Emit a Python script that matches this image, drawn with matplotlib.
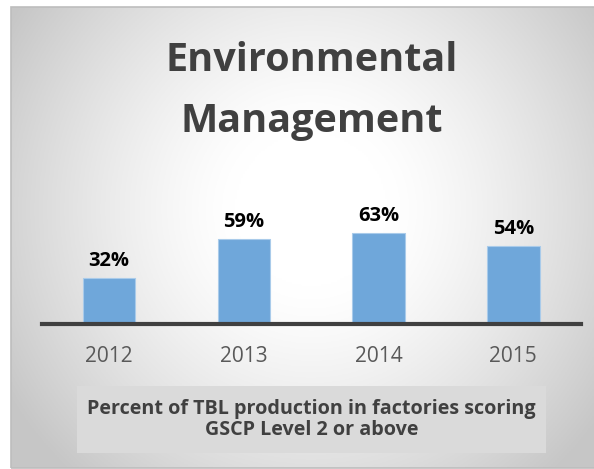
import matplotlib
matplotlib.use('Agg')
import matplotlib.pyplot as plt
from matplotlib.patches import Rectangle
import numpy as np

years = ['2012', '2013', '2014', '2015']
pct = [32, 59, 63, 54]

title_lines = ['Environmental', 'Management']
caption_lines = ['Percent of TBL production in factories scoring',
                 'GSCP Level 2 or above']

W, H = 594, 469
plt.rcParams['font.family'] = ['Open Sans', 'DejaVu Sans']


def fx(px):
    return px / W


def fy(py):
    # pixel row (from top) -> figure fraction
    return 1 - py / H


fig = plt.figure(figsize=(W / 100, H / 100), dpi=100)

# radial grey background panel
bg = fig.add_axes([fx(11), fy(468), fx(583), 461 / H])
xx, yy = np.meshgrid(np.linspace(-1, 1, 300), np.linspace(-1, 1, 240))
dx = xx - 0.03
dy = yy + 0.12
r = np.sqrt(0.9 * dx**2 + 0.55 * dy**2)
v = 1 - 0.22 * np.clip((r - 0.25) / 0.9, 0, 1)**1.3
bg.imshow(np.dstack([v, v, v]), extent=[0, 1, 0, 1], aspect='auto', origin='upper')
bg.set_xlim(0, 1)
bg.set_ylim(0, 1)
bg.axis('off')
bg.add_patch(Rectangle((0, 0), 1.2, 1, transform=bg.transAxes, fill=False,
                       edgecolor='#bdbdbd', linewidth=1.2, clip_on=False))

# caption box
fig.patches.append(Rectangle((fx(77), fy(453)), fx(469), 67 / H, transform=fig.transFigure,
                             facecolor='#dadada', edgecolor='none', zorder=1))

ax = fig.add_axes([fx(41.7), fy(324), fx(539), 124 / H])
ax.patch.set_alpha(0)
x = np.arange(len(years))
bars = ax.bar(x, pct, width=0.39, color='#6fa7da', edgecolor='#a9cbea', linewidth=0.8, zorder=2)
ax.set_xlim(-0.5, 3.5)
ax.set_ylim(0, 85.8)
ax.axhline(0, color='#404040', linewidth=3, zorder=3, clip_on=False)
for xi, p in zip(x, pct):
    ax.annotate('{}%'.format(p), (xi, p), xytext=(0, 12), textcoords='offset points',
                ha='center', va='center', fontsize=14.5, fontweight='bold', color='black')
for s in ax.spines.values():
    s.set_visible(False)
ax.set_yticks([])
ax.set_xticks(x)
ax.set_xticklabels(years, fontsize=15, color='#595959')
ax.tick_params(axis='x', length=0, pad=16)

for i, line in enumerate(title_lines):
    fig.text(fx(311.5), fy(71 + i * 61), line, ha='center', va='baseline',
             fontsize=28.5, fontweight='bold', color='#404040')

for i, line in enumerate(caption_lines):
    fig.text(fx(311.5), fy(414 + i * 21), line, ha='center', va='baseline',
             fontsize=14.2, fontweight='bold', color='#404040', zorder=3)

fig.savefig('out.png', dpi=100)
